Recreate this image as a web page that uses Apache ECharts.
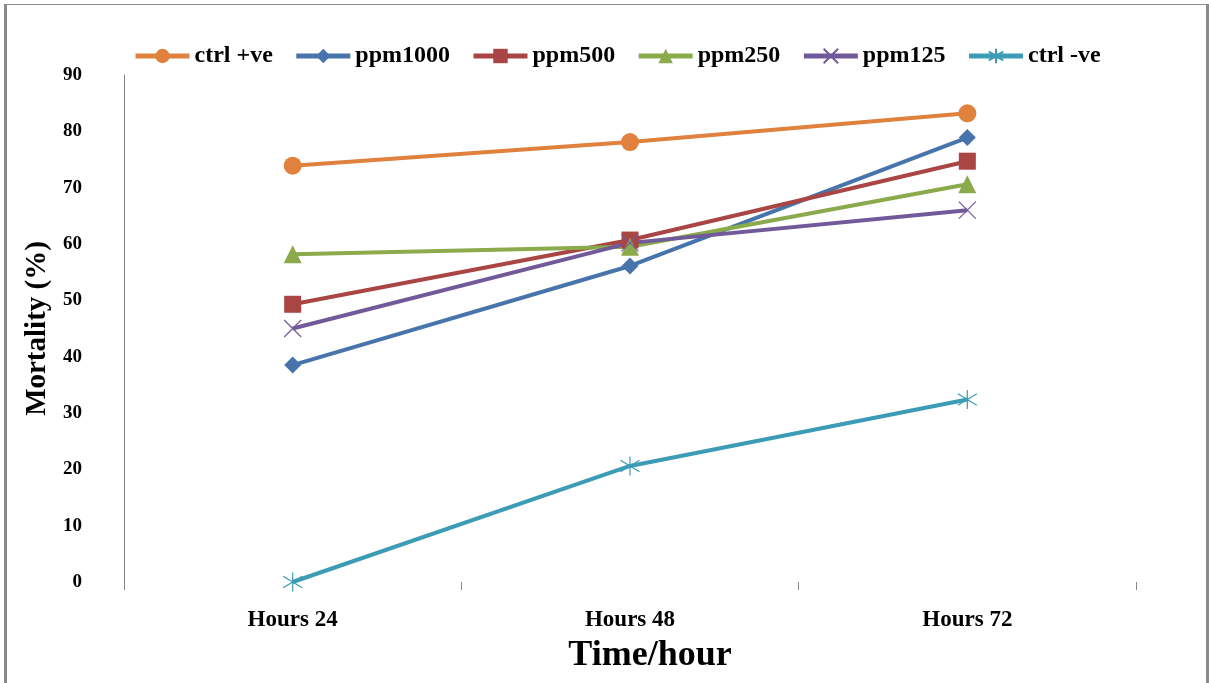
<!DOCTYPE html>
<html>
<head>
<meta charset="utf-8">
<script src="https://cdn.jsdelivr.net/npm/echarts@6/dist/echarts.min.js"></script>
<style>
  html, body { margin: 0; padding: 0; background: #fff; }
  #myChart { width: 1209px; height: 683px; }
</style>
</head>
<body>
<div id="myChart"></div>
<script>
// x categories
const hours = ['Hours 24', 'Hours 48', 'Hours 72'];
// mortality (%) per series
const ctrlPos = [73.9, 78.1, 83.2];
const ppm1000 = [38.5, 56.1, 78.9];
const ppm500 = [49.3, 60.7, 74.7];
const ppm250 = [58.2, 59.5, 70.6];
const ppm125 = [45.0, 60.2, 66.0];
const ctrlNeg = [0, 20.6, 32.4];
const yTicks = [0, 90, 10]; // min, max, step

const font = '"Liberation Serif", "Times New Roman", serif';
const crossPath = 'path://M0,0 L10,10 M10,0 L0,10';
const starPath = 'path://M5,0 L5,10 M0,2 L10,8 M10,2 L0,8';

function mkSeries (name, data, color, symbol, size, lineSym) {
  return {
    name: name,
    type: 'line',
    data: data,
    symbol: symbol,
    symbolSize: size,
    lineStyle: { width: 4, color: color },
    itemStyle: lineSym
      ? { color: 'transparent', borderColor: color, borderWidth: 1.2 }
      : { color: color, borderWidth: 0 },
    emphasis: { disabled: true },
    z: 2
  };
}

let myChart = echarts.init(document.getElementById('myChart'));
myChart.setOption({
  animation: false,
  color: ['#E0823D', '#4674AB', '#A94543', '#8BAA4B', '#715A9A', '#3C9CB6'],
  graphic: [
    { type: 'rect', shape: { x: 4, y: 4, width: 3, height: 680 }, style: { fill: '#8a8a8a' } },
    { type: 'rect', shape: { x: 4, y: 4, width: 1204, height: 1 }, style: { fill: '#8a8a8a' } },
    { type: 'rect', shape: { x: 1206, y: 4, width: 3, height: 680 }, style: { fill: '#8a8a8a' } }
  ],
  legend: {
    top: 39,
    left: 128,
    itemGap: 21,
    itemWidth: 54,
    itemHeight: 18,
    lineStyle: { width: 5 },
    textStyle: { fontFamily: font, fontWeight: 'bold', fontSize: 24, color: '#000' },
    data: ['ctrl +ve', 'ppm1000', 'ppm500', 'ppm250', 'ppm125', 'ctrl -ve']
  },
  grid: { left: 124, right: 73, top: 75, bottom: 101, containLabel: false },
  xAxis: {
    type: 'category',
    data: hours,
    boundaryGap: true,
    name: 'Time/hour',
    nameLocation: 'middle',
    nameGap: 56,
    nameTextStyle: { fontFamily: font, fontWeight: 'bold', fontSize: 36, color: '#000', padding: [0, 0, 0, 40] },
    axisLine: { show: false },
    axisTick: { show: true, length: 8, inside: false, lineStyle: { color: '#868686' } },
    axisLabel: { margin: 27, fontFamily: font, fontWeight: 'bold', fontSize: 23, color: '#000' },
    splitLine: { show: false }
  },
  yAxis: {
    type: 'value',
    min: yTicks[0],
    max: yTicks[1],
    interval: yTicks[2],
    name: 'Mortality (%)',
    nameLocation: 'middle',
    nameGap: 66,
    nameTextStyle: { fontFamily: font, fontWeight: 'bold', fontSize: 29, color: '#000' },
    axisLine: { show: true, lineStyle: { color: '#868686', width: 1 } },
    axisTick: { show: false },
    axisLabel: { margin: 42, fontFamily: font, fontWeight: 'bold', fontSize: 19, color: '#000' },
    splitLine: { show: false }
  },
  series: [
    mkSeries('ctrl +ve', ctrlPos, '#E0823D', 'circle', 18),
    mkSeries('ppm1000', ppm1000, '#4674AB', 'diamond', 17),
    mkSeries('ppm500', ppm500, '#A94543', 'rect', 17),
    mkSeries('ppm250', ppm250, '#8BAA4B', 'triangle', 18),
    mkSeries('ppm125', ppm125, '#715A9A', crossPath, 17, true),
    mkSeries('ctrl -ve', ctrlNeg, '#3C9CB6', starPath, 19, true)
  ]
});
window.onresize = myChart.resize;
</script>
</body>
</html>
